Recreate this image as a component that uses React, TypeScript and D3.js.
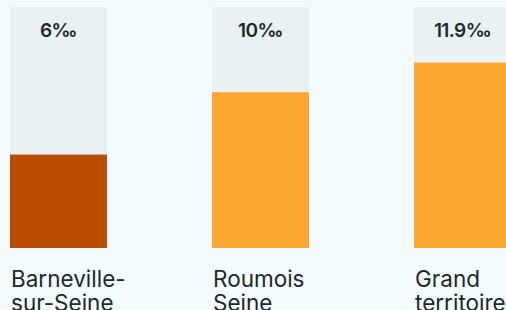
import React from "react";
import { scaleBand, scaleLinear, max } from "d3";

const categories = ["Barneville-sur-Seine", "Roumois Seine", "Grand territoire"];
const labelLines = [["Barneville-", "sur-Seine"], ["Roumois", "Seine"], ["Grand", "territoire"]];
const values = [6, 10, 11.9];
const highlight = [true, false, false];

const width = 506;
const height = 310;

export default function App() {
  const top = 7;
  const bottom = 248;

  const x = scaleBand<string>()
    .domain(categories)
    .range([10, 511])
    .paddingInner(0.52)
    .paddingOuter(0);

  // headroom above the tallest bar
  const y = scaleLinear()
    .domain([0, (max(values) ?? 1) * 1.3])
    .range([bottom, top]);

  return (
    <div style={{ position: "absolute", left: 0, top: 0 }}>
      <svg width={width} height={height} style={{ display: "block", background: "#f4fbfe" }}>
        {categories.map((c, i) => {
          const x0 = x(c) ?? 0;
          const bw = x.bandwidth();
          return (
            <g key={c}>
              <rect x={x0} y={top} width={bw} height={bottom - top} fill="#e9f1f3" />
              <rect
                x={x0}
                y={y(values[i])}
                width={bw}
                height={bottom - y(values[i])}
                fill={highlight[i] ? "#b94e00" : "#fca732"}
              />
              <text
                x={x0 + bw / 2}
                y={37}
                textAnchor="middle"
                fontFamily="Inter, sans-serif"
                fontWeight={600}
                fontSize={19}
                letterSpacing={-0.6}
                fill="#1b2a26"
              >
                {values[i]}‰
              </text>
              <text
                x={x0 + 1}
                y={287}
                fontFamily="Inter, sans-serif"
                fontWeight={400}
                fontSize={22.5}
                fill="#1b2a26"
              >
                {labelLines[i].map((l, j) => (
                  <tspan key={j} x={x0 + 1} dy={j === 0 ? 0 : 24}>
                    {l}
                  </tspan>
                ))}
              </text>
            </g>
          );
        })}
      </svg>
    </div>
  );
}
